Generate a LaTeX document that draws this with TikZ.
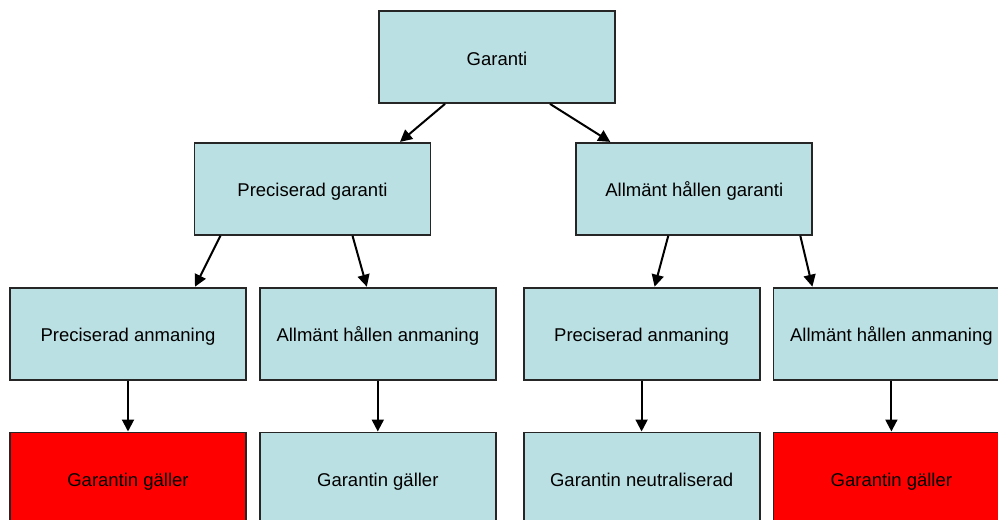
\documentclass[tikz,border=0pt]{standalone}
\usepackage{fontspec}
\setmainfont{Liberation Sans}
\usetikzlibrary{positioning, arrows.meta}
\definecolor{boxblue}{RGB}{187,224,227}
\definecolor{boxred}{RGB}{255,0,0}

\begin{document}
\begin{tikzpicture}[
        box/.style={rectangle, draw=black!85, line width=0.9pt, fill=boxblue, minimum width=118pt, minimum height=46pt, inner sep=3pt, text height=9pt, text depth=1pt, font=\fontsize{9.25}{11}\selectfont},
        redbox/.style={box, fill=boxred},
        arrow/.style={-{Triangle[length=6pt, width=6pt]}, line width=1pt}
    ]
        \clip (0,0) rectangle (499pt,-260pt);

        \node[box] (garanti) at (248.5pt,-28.5pt) {Garanti};
        \node[box, below=19pt of garanti, xshift=-92.25pt] (pgar) {Preciserad garanti};
        \node[box, right=72pt of pgar] (agar) {Allmänt hållen garanti};

        \node[box, below=25.5pt of pgar, xshift=-92.25pt] (pan1) {Preciserad anmaning};
        \node[box, right=6pt of pan1] (aan1) {Allmänt hållen anmaning};
        \node[box, right=13pt of aan1] (pan2) {Preciserad anmaning};
        \node[box, right=6pt of pan2] (aan2) {Allmänt hållen anmaning};

        \node[redbox, below=25.5pt of pan1] (res1) {Garantin gäller};
        \node[box, below=25.5pt of aan1] (res2) {Garantin gäller};
        \node[box, below=25.5pt of pan2] (res3) {Garantin neutraliserad};
        \node[redbox, below=25.5pt of aan2] (res4) {Garantin gäller};

        \draw[arrow] ([xshift=-26pt]garanti.south) -- ([xshift=43.75pt]pgar.north);
        \draw[arrow] ([xshift=26.5pt]garanti.south) -- ([xshift=-42pt]agar.north);

        \draw[arrow] ([xshift=-46pt]pgar.south) -- ([xshift=33.5pt]pan1.north);
        \draw[arrow] ([xshift=20pt]pgar.south) -- ([xshift=-5.5pt]aan1.north);
        \draw[arrow] ([xshift=-13pt]agar.south) -- ([xshift=6.5pt]pan2.north);
        \draw[arrow] ([xshift=53pt]agar.south) -- ([xshift=-39.5pt]aan2.north);

        \draw[arrow] (pan1) -- (res1);
        \draw[arrow] (aan1) -- (res2);
        \draw[arrow] (pan2) -- (res3);
        \draw[arrow] (aan2) -- (res4);
    \end{tikzpicture}
\end{document}
